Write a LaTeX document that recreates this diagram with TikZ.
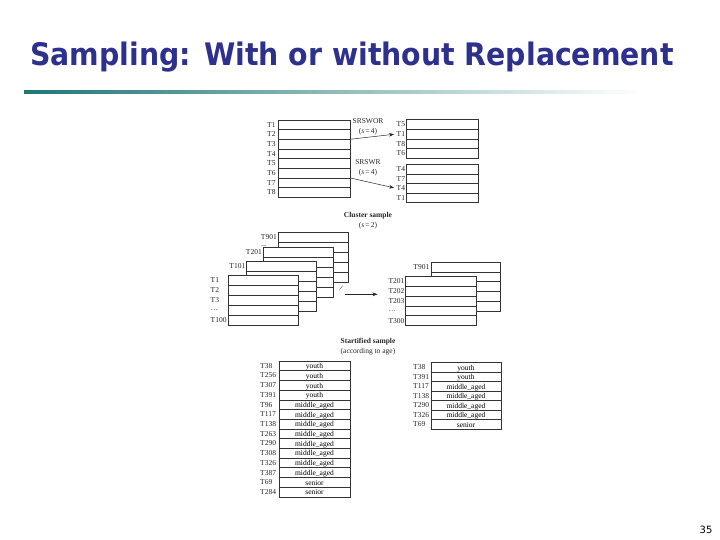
\documentclass[tikz,border=0pt]{standalone}
\usepackage{fontspec}
\usepackage{graphicx}
\setmainfont{Liberation Serif}
\newfontfamily\titlefont{DejaVu Sans}
\usetikzlibrary{positioning,arrows.meta}
\definecolor{titleblue}{RGB}{46,48,142}
\definecolor{ruleteal}{RGB}{30,118,118}
\begin{document}
\begin{tikzpicture}[x=1pt,y=-1pt,
  cell/.style={draw=black!80, line width=0.6pt, fill=white, minimum width=71pt,
    minimum height=9.7pt, inner sep=0pt, outer sep=0pt, anchor=north west,
    text height=5.6pt, text depth=0pt, font=\fontsize{7.5}{8}\selectfont},
  rowlabel/.style={anchor=west, inner sep=0pt, text=black!85, font=\fontsize{7.5}{8}\selectfont},
  caption/.style={align=center, inner sep=0pt, text=black!85, font=\fontsize{7.5}{10}\selectfont},
  samplearrow/.style={-{Stealth[length=5pt,width=3.6pt]}, line width=0.5pt, black!85}]
\useasboundingbox (0,0) rectangle (720,540);
% heading
\node[anchor=base west, inner sep=0pt, text=titleblue,
  font=\titlefont\bfseries\fontsize{31}{36}\selectfont] (title) at (30,66)
  {\scalebox{0.915}[1]{Sampling: With or without Replacement}};
\shade[left color=ruleteal, right color=white] (24,90.5) rectangle (640,94);
\node[font=\titlefont\fontsize{10}{12}\selectfont] (page-no) at (706,530) {35};
% SRSWOR / SRSWR
\foreach \n in {1,...,8} {
  \node[cell, minimum width=72pt, minimum height=9.65pt] (src-\n) at (278,{120+(\n-1)*9.65}) {};
  \node[rowlabel] (src-lab-\n) at (267,{124.8+(\n-1)*9.65}) {T\n};
}
\foreach \lab [count=\i] in {T5,T1,T8,T6} {
  \node[cell, minimum width=71.5pt] (wor-\i) at (406.5,{119.5+(\i-1)*9.7}) {};
  \node[rowlabel] (wor-lab-\i) at (396.5,{124.3+(\i-1)*9.7}) {\lab};
}
\foreach \lab [count=\i] in {T4,T7,T4,T1} {
  \node[cell, minimum width=71.5pt, minimum height=9.5pt] (wr-\i) at (406.5,{164.7+(\i-1)*9.5}) {};
  \node[rowlabel] (wr-lab-\i) at (396.5,{169.4+(\i-1)*9.5}) {\lab};
}
\node[caption] (wor-cap) at (368,126.7) {SRSWOR\\(\textit{s}\,=\,4)};
\node[caption] (wr-cap) at (368,168.2) {SRSWR\\(\textit{s}\,=\,4)};
\draw[samplearrow, shorten >=2.5pt] (src-2.south east) -- (wor-lab-2.west);
\draw[samplearrow, shorten >=2.5pt] (src-6.south east) -- (wr-lab-3.west);
% cluster sample
\node[caption] (clu-cap) at (368,220.3) {\textbf{Cluster sample}\\(\textit{s}\,=\,2)};
\foreach \x/\y/\lab/\nm in {278/232/T901/d, 263/247.5/T201/c, 246.5/261/T101/b} {
  \foreach \k in {1,...,5}
    \node[cell, minimum width=70pt, minimum height=10pt] (clu-\nm-\k) at (\x,{\y+(\k-1)*10}) {};
  \node[rowlabel, anchor=east] (clu-\nm-lab) at ([xshift=-1pt]clu-\nm-1.west) {\lab};
}
\node[rowlabel, anchor=base east] (clu-d-dots) at (267,246.5) {...};
\foreach \lab [count=\k] in {T1,T2,T3,\dots,T100} {
  \node[cell, minimum width=70pt, minimum height=10pt] (clu-a-\k) at (228,{275+(\k-1)*10}) {};
  \node[rowlabel] (clu-a-lab-\k) at (210.5,{280+(\k-1)*10}) {\lab};
}
\foreach \k in {1,...,5}
  \node[cell, minimum width=69.5pt, minimum height=9.8pt] (out-d-\k) at (431,{262+(\k-1)*9.8}) {};
\node[rowlabel, anchor=east] (out-d-lab) at ([xshift=-1.5pt]out-d-1.west) {T901};
\foreach \lab [count=\k] in {T201,T202,T203,\dots,T300} {
  \node[cell, minimum width=71pt, minimum height=9.8pt] (out-a-\k) at (405,{276.5+(\k-1)*9.8}) {};
  \node[rowlabel] (out-a-lab-\k) at (388.3,{281.4+(\k-1)*9.8}) {\lab};
}
\draw[black!70, line width=0.4pt] (339.5,289.5) -- (342.5,286);
\coordinate (clu-from) at (345,294.3);
\coordinate (clu-to) at (377.5,294.3);
\draw[samplearrow] (clu-from) -- (clu-to);
% stratified sample
\node[caption] (str-cap) at (368,346.5) {\textbf{Startified sample}\\(according to age)};
\foreach \lab/\age [count=\k] in {T38/youth, T256/youth, T307/youth, T391/youth,
    T96/middle\_aged, T117/middle\_aged, T138/middle\_aged, T263/middle\_aged,
    T290/middle\_aged, T308/middle\_aged, T326/middle\_aged, T387/middle\_aged,
    T69/senior, T284/senior} {
  \node[cell] (str-\k) at (279,{361+(\k-1)*9.7}) {\age};
  \node[rowlabel] (str-lab-\k) at (260,{365.85+(\k-1)*9.7}) {\lab};
}
\foreach \lab/\age [count=\k] in {T38/youth, T391/youth, T117/middle\_aged,
    T138/middle\_aged, T290/middle\_aged, T326/middle\_aged, T69/senior} {
  \node[cell, minimum width=70pt, minimum height=9.5pt] (smp-\k) at (431,{362.5+(\k-1)*9.5}) {\age};
  \node[rowlabel] (smp-lab-\k) at (413,{367.25+(\k-1)*9.5}) {\lab};
}
\end{tikzpicture}
\end{document}
